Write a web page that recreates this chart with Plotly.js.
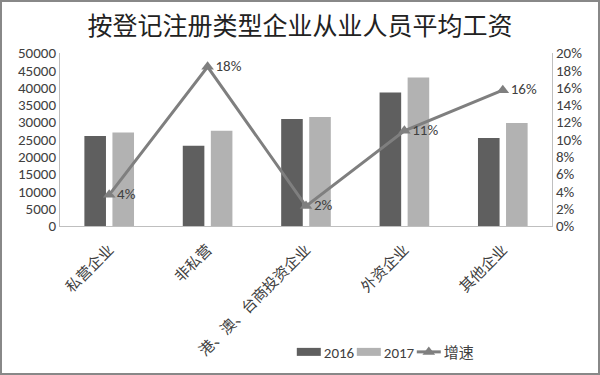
<!DOCTYPE html>
<html><head><meta charset="utf-8">
<script src="https://cdn.plot.ly/plotly-3.0.1.min.js"></script>
<style>html,body{margin:0;padding:0;background:#fff;}#chart{width:600px;height:375px;}</style>
</head><body><div id="chart"></div>
<script>
const categories = ["私营企业", "非私营", "港、澳、台商投资企业", "外资企业", "其他企业"];
const wage2016 = [26000, 23200, 30900, 38600, 25400];
const wage2017 = [27000, 27500, 31500, 42900, 29800];
const growth = [3.6, 18.4, 2.3, 11.0, 15.7];
const growthLabels = growth.map(v => Math.round(v) + "%");
const leftTicks = [0,5000,10000,15000,20000,25000,30000,35000,40000,45000,50000];
const rightTicks = [0,2,4,6,8,10,12,14,16,18,20];

const tickFont = {family: "Carlito, 'Liberation Sans', sans-serif", size: 15, color: "#404040"};
const traces = [
  {type: "bar", name: "2016", x: categories, y: wage2016, marker: {color: "#5f5f5f"}, hoverinfo: "none"},
  {type: "bar", name: "2017", x: categories, y: wage2017, marker: {color: "#b2b2b2"}, hoverinfo: "none"},
  {type: "scatter", mode: "lines+markers+text", name: "增速", x: categories, y: growth, yaxis: "y2",
   line: {color: "#7f7f7f", width: 3}, marker: {symbol: "triangle-up", size: 11, color: "#7f7f7f"},
   text: growthLabels, textposition: "middle right", textfont: {family: "Carlito, 'Liberation Sans', sans-serif", size: 15, color: "#404040"},
   hoverinfo: "none", cliponaxis: false}
];
const layout = {
  width: 600, height: 375,
  margin: {l: 60, r: 48, t: 53, b: 149},
  paper_bgcolor: "#fff", plot_bgcolor: "#fff",
  title: {text: "按登记注册类型企业从业人员平均工资", font: {family: "'Noto Sans CJK SC', sans-serif", size: 25, color: "#222"}, x: 0.5, xanchor: "center", y: 0.93, yanchor: "middle"},
  barmode: "group", bargap: 0.43, bargroupgap: 0.23,
  showlegend: true,
  legend: {orientation: "h", xref: "container", yref: "container", x: 0.473, y: 0.061, xanchor: "left", yanchor: "middle", font: {family: "Carlito, 'Liberation Sans', 'Noto Sans CJK SC', sans-serif", size: 15, color: "#404040"}, entrywidth: 15, entrywidthmode: "pixels", tracegroupgap: 0},
  xaxis: {automargin: false, tickangle: -45, ticklabelstandoff: 8, tickfont: {family: "'Noto Sans CJK SC', serif", size: 15, color: "#404040"}, showline: true, linecolor: "#bfbfbf", linewidth: 1, ticks: "", fixedrange: true},
  yaxis: {automargin: false, range: [0, 50000], tickvals: leftTicks, ticktext: leftTicks.map(String), tickfont: tickFont, showgrid: false, zeroline: false, showline: true, linecolor: "#bfbfbf", ticks: "", fixedrange: true},
  yaxis2: {automargin: false, overlaying: "y", side: "right", range: [0, 20], tickvals: rightTicks, ticktext: rightTicks.map(v => v + "%"), tickfont: tickFont, showgrid: false, zeroline: false, showline: true, linecolor: "#bfbfbf", ticks: "", fixedrange: true}
};
Plotly.newPlot("chart", traces, layout, {displayModeBar: false, staticPlot: true}).then(() => {
  const items = document.querySelectorAll("#chart .legend .traces");
  items.forEach((tr, i) => {
    if (i < 2) {
      tr.querySelectorAll(".legendpoints path").forEach(bp => {
        bp.setAttribute("d", "M-7,-4h24v8h-24z");
      });
    } else {
      tr.querySelectorAll(".legendlines path").forEach(lp => {
        lp.setAttribute("d", "M13,0h24");
      });
      tr.querySelectorAll(".legendsymbols path").forEach(sp => {
        sp.setAttribute("transform", "translate(25,0)");
      });
    }
  });
  document.querySelectorAll("#chart .legend [clip-path]").forEach(e => e.removeAttribute("clip-path"));
});
</script>
<div style="position:absolute;left:0;top:0;width:596px;height:371px;border:2px solid #888;pointer-events:none;"></div>
</body></html>
